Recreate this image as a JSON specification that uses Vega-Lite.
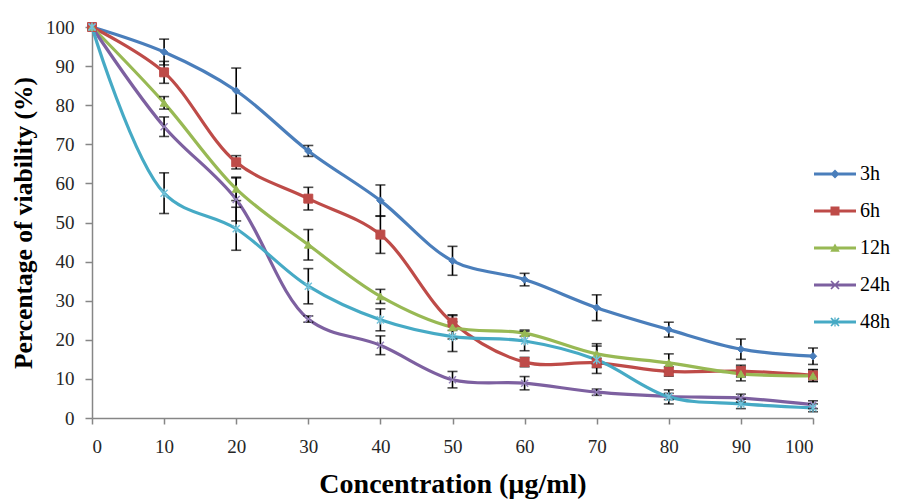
{
  "$schema": "https://vega.github.io/schema/vega-lite/v6.json",
  "width": 721,
  "height": 391,
  "autosize": "none",
  "padding": {"left": 92, "top": 27, "right": 85, "bottom": 82},
  "background": "white",
  "config": {
    "view": {"stroke": null},
    "font": "Liberation Serif",
    "legend": {"labelFont": "Liberation Serif", "labelFontSize": 20, "labelColor": "black"}
  },
  "data": {
    "values": [
      {"c": 0, "s": "3h", "v": 100, "e": 0},
      {"c": 10, "s": "3h", "v": 93.6, "e": 3.3},
      {"c": 20, "s": "3h", "v": 83.7, "e": 5.8},
      {"c": 30, "s": "3h", "v": 68.3, "e": 1.4},
      {"c": 40, "s": "3h", "v": 55.6, "e": 4.0},
      {"c": 50, "s": "3h", "v": 40.2, "e": 3.7},
      {"c": 60, "s": "3h", "v": 35.4, "e": 1.6},
      {"c": 70, "s": "3h", "v": 28.2, "e": 3.3},
      {"c": 80, "s": "3h", "v": 22.6, "e": 1.9},
      {"c": 90, "s": "3h", "v": 17.6, "e": 2.6},
      {"c": 100, "s": "3h", "v": 15.8, "e": 2.1},
      {"c": 0, "s": "6h", "v": 100, "e": 0},
      {"c": 10, "s": "6h", "v": 88.4, "e": 2.8},
      {"c": 20, "s": "6h", "v": 65.4, "e": 1.7},
      {"c": 30, "s": "6h", "v": 56.1, "e": 2.9},
      {"c": 40, "s": "6h", "v": 46.9, "e": 4.8},
      {"c": 50, "s": "6h", "v": 24.4, "e": 2.0},
      {"c": 60, "s": "6h", "v": 14.3, "e": 1.2},
      {"c": 70, "s": "6h", "v": 14.1, "e": 1.2},
      {"c": 80, "s": "6h", "v": 11.9, "e": 1.2},
      {"c": 90, "s": "6h", "v": 12.0, "e": 1.5},
      {"c": 100, "s": "6h", "v": 10.9, "e": 1.5},
      {"c": 0, "s": "12h", "v": 100, "e": 0},
      {"c": 10, "s": "12h", "v": 80.6, "e": 1.6},
      {"c": 20, "s": "12h", "v": 58.6, "e": 3.0},
      {"c": 30, "s": "12h", "v": 44.3, "e": 3.9},
      {"c": 40, "s": "12h", "v": 31.1, "e": 1.8},
      {"c": 50, "s": "12h", "v": 23.2, "e": 3.0},
      {"c": 60, "s": "12h", "v": 21.7, "e": 0.8},
      {"c": 70, "s": "12h", "v": 16.4, "e": 2.6},
      {"c": 80, "s": "12h", "v": 14.1, "e": 2.3},
      {"c": 90, "s": "12h", "v": 11.3, "e": 1.8},
      {"c": 100, "s": "12h", "v": 10.8, "e": 1.5},
      {"c": 0, "s": "24h", "v": 100, "e": 0},
      {"c": 10, "s": "24h", "v": 74.5, "e": 2.5},
      {"c": 20, "s": "24h", "v": 55.9, "e": 5.5},
      {"c": 30, "s": "24h", "v": 25.3, "e": 0.8},
      {"c": 40, "s": "24h", "v": 18.6, "e": 2.4},
      {"c": 50, "s": "24h", "v": 9.8, "e": 2.1},
      {"c": 60, "s": "24h", "v": 8.9, "e": 1.7},
      {"c": 70, "s": "24h", "v": 6.6, "e": 0.8},
      {"c": 80, "s": "24h", "v": 5.5, "e": 0.8},
      {"c": 90, "s": "24h", "v": 5.1, "e": 1.0},
      {"c": 100, "s": "24h", "v": 3.4, "e": 1.0},
      {"c": 0, "s": "48h", "v": 100, "e": 0},
      {"c": 10, "s": "48h", "v": 57.5, "e": 5.2},
      {"c": 20, "s": "48h", "v": 48.4, "e": 5.5},
      {"c": 30, "s": "48h", "v": 33.7, "e": 4.5},
      {"c": 40, "s": "48h", "v": 25.1, "e": 2.8},
      {"c": 50, "s": "48h", "v": 20.8, "e": 3.8},
      {"c": 60, "s": "48h", "v": 19.7, "e": 2.5},
      {"c": 70, "s": "48h", "v": 14.9, "e": 3.5},
      {"c": 80, "s": "48h", "v": 5.4, "e": 1.8},
      {"c": 90, "s": "48h", "v": 3.6, "e": 1.2},
      {"c": 100, "s": "48h", "v": 2.6, "e": 1.0}
    ]
  },
  "encoding": {
    "x": {
      "field": "c",
      "type": "quantitative",
      "scale": {"domain": [0, 100], "nice": false, "zero": false},
      "axis": {
        "title": "Concentration (µg/ml)",
        "values": [0, 10, 20, 30, 40, 50, 60, 70, 80, 90, 100],
        "grid": false,
        "domainColor": "#868686",
        "domainWidth": 1.5,
        "tickColor": "#868686",
        "tickWidth": 1.5,
        "tickSize": 6,
        "labelFont": "Liberation Serif",
        "labelFontSize": 19,
        "labelColor": "#262626",
        "labelPadding": 13,
        "titleFont": "Liberation Serif",
        "titleFontSize": 28,
        "titleFontWeight": "bold",
        "titleColor": "black",
        "titlePadding": 14
      }
    },
    "y": {
      "field": "v",
      "type": "quantitative",
      "scale": {"domain": [0, 100], "nice": false},
      "axis": {
        "title": "Percentage of viability (%)",
        "values": [0, 10, 20, 30, 40, 50, 60, 70, 80, 90, 100],
        "grid": false,
        "domainColor": "#868686",
        "domainWidth": 1.5,
        "tickColor": "#868686",
        "tickWidth": 1.5,
        "tickSize": 7,
        "labelFont": "Liberation Serif",
        "labelFontSize": 19,
        "labelColor": "#262626",
        "labelPadding": 11,
        "titleFont": "Liberation Serif",
        "titleFontSize": 25.5,
        "titleFontWeight": "bold",
        "titleColor": "black",
        "titlePadding": 9
      }
    }
  },
  "layer": [
    {
      "mark": {"type": "line", "interpolate": "catmull-rom", "strokeWidth": 3.2},
      "encoding": {
        "color": {
          "field": "s",
          "type": "nominal",
          "scale": {"domain": ["3h", "6h", "12h", "24h", "48h"], "range": ["#4a7ebb", "#be4b48", "#98b954", "#7d60a0", "#46aac5"]},
          "legend": {
            "orient": "none",
            "legendX": 733,
            "legendY": 137,
            "title": null,
            "padding": 0,
            "symbolSize": 100,
            "symbolOpacity": 1,
            "symbolStrokeWidth": 0,
            "labelFont": "Liberation Serif",
            "labelFontSize": 20,
            "labelColor": "black",
            "labelOffset": 15,
            "rowPadding": 17
          }
        }
      }
    },
    {
      "transform": [{"filter": "datum.c > 0"}],
      "mark": {"type": "errorbar", "ticks": true, "size": 10, "thickness": 1.6, "color": "black"},
      "encoding": {
        "y": {"field": "v", "type": "quantitative"},
        "yError": {"field": "e"}
      }
    },
    {
      "transform": [{"filter": "datum.s === '3h'"}],
      "mark": {"type": "point", "shape": "diamond", "filled": true, "opacity": 1, "size": 55, "color": "#4a7ebb", "stroke": "#4a7ebb", "strokeWidth": 1}
    },
    {
      "transform": [{"filter": "datum.s === '6h'"}],
      "mark": {"type": "point", "shape": "square", "filled": true, "opacity": 1, "size": 80, "color": "#be4b48", "stroke": "#be4b48", "strokeWidth": 1}
    },
    {
      "transform": [{"filter": "datum.s === '12h'"}],
      "mark": {"type": "point", "shape": "triangle-up", "filled": true, "opacity": 1, "size": 60, "color": "#98b954", "stroke": "#98b954", "strokeWidth": 1}
    },
    {
      "transform": [{"filter": "datum.s === '24h'"}],
      "mark": {"type": "point", "shape": "M-1,-1L1,1M-1,1L1,-1", "filled": false, "opacity": 1, "size": 50, "color": "#9482b8", "strokeWidth": 1.4}
    },
    {
      "transform": [{"filter": "datum.s === '48h'"}],
      "mark": {"type": "point", "shape": "M-1,-1L1,1M-1,1L1,-1M0,-1.3L0,1.3", "filled": false, "opacity": 1, "size": 50, "color": "#72c4dc", "strokeWidth": 1.4}
    },
    {
      "mark": {"type": "point", "filled": true, "opacity": 0},
      "encoding": {
        "color": {
          "field": "s",
          "type": "nominal",
          "legend": {
            "orient": "none",
            "legendX": 733,
            "legendY": 137,
            "title": null,
            "padding": 0,
            "symbolSize": 100,
            "symbolOpacity": 1,
            "symbolStrokeWidth": 0,
            "labelFont": "Liberation Serif",
            "labelFontSize": 20,
            "labelColor": "black",
            "labelOffset": 15,
            "rowPadding": 17
          }
        },
        "shape": {
          "field": "s",
          "type": "nominal",
          "scale": {"domain": ["3h", "6h", "12h", "24h", "48h"], "range": [
            "M-4.2,-0.3L4.2,-0.3L4.2,0.3L-4.2,0.3Z M0,-0.9L0.9,0L0,0.9L-0.9,0Z",
            "M-4.2,-0.3L4.2,-0.3L4.2,0.3L-4.2,0.3Z M-0.9,-0.9L0.9,-0.9L0.9,0.9L-0.9,0.9Z",
            "M-4.2,-0.3L4.2,-0.3L4.2,0.3L-4.2,0.3Z M0,-0.9L0.95,0.75L-0.95,0.75Z",
            "M-4.2,-0.3L4.2,-0.3L4.2,0.3L-4.2,0.3Z M-0.68,-0.92L0.92,0.68L0.68,0.92L-0.92,-0.68Z M-0.92,0.68L0.68,-0.92L0.92,-0.68L-0.68,0.92Z",
            "M-4.2,-0.3L4.2,-0.3L4.2,0.3L-4.2,0.3Z M-0.68,-0.92L0.92,0.68L0.68,0.92L-0.92,-0.68Z M-0.92,0.68L0.68,-0.92L0.92,-0.68L-0.68,0.92Z M-0.12,-0.9L0.12,-0.9L0.12,0.9L-0.12,0.9Z"
          ]},
          "legend": {
            "orient": "none",
            "legendX": 733,
            "legendY": 137,
            "title": null,
            "padding": 0,
            "symbolSize": 100,
            "symbolOpacity": 1,
            "symbolStrokeWidth": 0,
            "labelFont": "Liberation Serif",
            "labelFontSize": 20,
            "labelColor": "black",
            "labelOffset": 15,
            "rowPadding": 17
          }
        }
      }
    }
  ]
}
